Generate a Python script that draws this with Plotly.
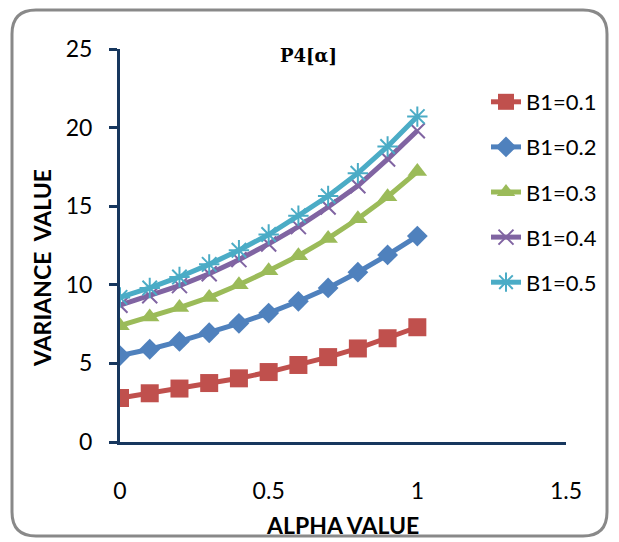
import plotly.graph_objects as go

alpha = [0, 0.1, 0.2, 0.3, 0.4, 0.5, 0.6, 0.7, 0.8, 0.9, 1.0]
b1_01 = [2.8, 3.1, 3.4, 3.75, 4.05, 4.45, 4.9, 5.4, 5.95, 6.6, 7.3]
b1_02 = [5.5, 5.9, 6.4, 6.95, 7.55, 8.2, 8.95, 9.8, 10.8, 11.9, 13.1]
b1_03 = [7.4, 7.95, 8.55, 9.2, 10.0, 10.9, 11.85, 12.95, 14.2, 15.6, 17.2]
b1_04 = [8.7, 9.3, 9.95, 10.7, 11.6, 12.6, 13.7, 14.95, 16.3, 18.0, 19.8]
b1_05 = [9.2, 9.8, 10.5, 11.3, 12.2, 13.2, 14.4, 15.65, 17.1, 18.8, 20.7]

series_names = ["B1=0.1", "B1=0.2", "B1=0.3", "B1=0.4", "B1=0.5"]
series_values = [b1_01, b1_02, b1_03, b1_04, b1_05]
colors = ["#C0504D", "#4F81BD", "#9BBB59", "#8064A2", "#4BACC6"]
symbols = ["square", "diamond", "triangle-up", "x-thin-open", "asterisk-open"]
sizes = [18, 16, 17, 15, 17]

x_ticks = [0, 0.5, 1, 1.5]
x_ticklabels = ["0", "0.5", "1", "1.5"]
y_ticks = [0, 5, 10, 15, 20, 25]

W, H = 619, 542
L, R, T, B = 120, 566, 49, 442

fig = go.Figure()
for name, vals, c, s, sz in zip(series_names, series_values, colors, symbols, sizes):
    open_sym = s.endswith("open")
    fig.add_trace(go.Scatter(
        x=alpha, y=vals, name=name, mode="lines+markers",
        legendgroup=name,
        line=dict(color=c, width=5),
        marker=dict(symbol=s, size=sz, color=c,
                    line=dict(color=c, width=2 if open_sym else 0)),
    ))

def px(xp):
    return (xp - L) / (R - L)

def py(yp):
    return (B - yp) / (B - T)

x0, x1, y0, y1, r = 12, 607, 10, 536, 24
path = (
    f"M {px(x0 + r)} {py(y0)} L {px(x1 - r)} {py(y0)} "
    f"Q {px(x1)} {py(y0)} {px(x1)} {py(y0 + r)} "
    f"L {px(x1)} {py(y1 - r)} Q {px(x1)} {py(y1)} {px(x1 - r)} {py(y1)} "
    f"L {px(x0 + r)} {py(y1)} Q {px(x0)} {py(y1)} {px(x0)} {py(y1 - r)} "
    f"L {px(x0)} {py(y0 + r)} Q {px(x0)} {py(y0)} {px(x0 + r)} {py(y0)} Z"
)

fig.update_layout(
    width=W, height=H,
    margin=dict(l=L, r=W - R, t=T, b=H - B, autoexpand=False),
    paper_bgcolor="white", plot_bgcolor="white",
    font=dict(family="Lato", size=23, color="#000000"),
    showlegend=True,
    legend=dict(
        x=px(486), y=py(81), xanchor="left", yanchor="top",
        traceorder="grouped", tracegroupgap=13.5,
        font=dict(family="Lato", size=22, color="#000000"),
        bgcolor="rgba(0,0,0,0)",
    ),
    shapes=[dict(type="path", xref="paper", yref="paper", path=path,
                 line=dict(color="#898989", width=3), layer="below")],
    annotations=[
        dict(text="<b>P4[α]</b>", x=px(308), y=py(55), xref="paper", yref="paper",
             showarrow=False, font=dict(family="DejaVu Serif", size=18, color="#000000"),
             xanchor="center", yanchor="middle"),
        dict(text="<b>ALPHA VALUE</b>", x=px(342), y=py(525), xref="paper", yref="paper",
             showarrow=False, font=dict(family="Lato", size=23, color="#000000"),
             xanchor="center", yanchor="middle"),
        dict(text="<b>VARIANCE  VALUE</b>", x=px(42), y=py(268), xref="paper", yref="paper",
             showarrow=False, textangle=-90, font=dict(family="Lato", size=23, color="#000000"),
             xanchor="center", yanchor="middle"),
    ],
    xaxis=dict(
        range=[0, 1.5], tickvals=x_ticks, ticktext=x_ticklabels,
        showgrid=False, zeroline=False, showline=True, linecolor="#17375E", linewidth=3,
        ticks="", ticklabelstandoff=26,
    ),
    yaxis=dict(
        range=[0, 25], tickvals=y_ticks,
        showgrid=False, zeroline=False, showline=True, linecolor="#17375E", linewidth=3,
        ticks="outside", ticklen=8, tickwidth=3, tickcolor="#17375E", ticklabelstandoff=12,
    ),
)

fig.write_html("out.html")
